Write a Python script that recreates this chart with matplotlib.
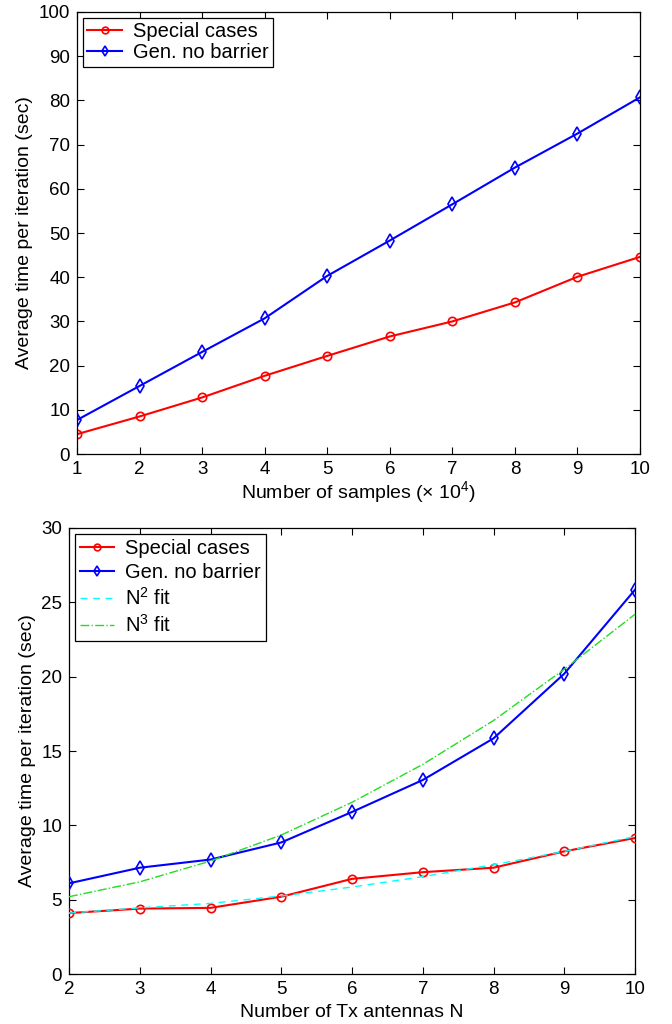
import matplotlib
matplotlib.use("Agg")
from matplotlib import pyplot as plt

# top panel: time vs number of samples (x 10^4)
samples = [1, 2, 3, 4, 5, 6, 7, 8, 9, 10]
special_samples = [4.5, 8.5, 12.8, 17.7, 22.2, 26.6, 30.0, 34.3, 40.1, 44.6]
general_samples = [7.7, 15.4, 23.1, 30.7, 40.3, 48.3, 56.5, 64.8, 72.5, 80.7]

# bottom panel: time vs number of Tx antennas
antennas = [2, 3, 4, 5, 6, 7, 8, 9, 10]
special_antennas = [4.1, 4.4, 4.45, 5.2, 6.4, 6.85, 7.15, 8.25, 9.15]
general_antennas = [6.1, 7.15, 7.7, 8.85, 10.9, 13.05, 15.85, 20.2, 25.85]
n2_fit = [4.1, 4.45, 4.75, 5.25, 5.85, 6.55, 7.35, 8.25, 9.25]
n3_fit = [5.2, 6.2, 7.6, 9.35, 11.55, 14.1, 17.05, 20.5, 24.2]

plt.rcParams["font.family"] = ["Liberation Sans", "DejaVu Sans"]
plt.rcParams["font.size"] = 14
plt.rcParams["mathtext.fontset"] = "custom"
plt.rcParams["mathtext.rm"] = "Liberation Sans"


def style_axes(ax):
    ax.tick_params(direction="in", top=True, right=True, length=5,
                   width=0.8, labelsize=13.5, pad=5)
    for sp in ax.spines.values():
        sp.set_linewidth(0.9)


def add_legend(ax, spacing, pad):
    leg = ax.legend(loc="upper left", fancybox=False, edgecolor="black",
                    framealpha=1, borderaxespad=0.3, handlelength=1.7,
                    handletextpad=0.55, fontsize=14.5, borderpad=pad,
                    labelspacing=spacing, markerscale=0.8)
    leg.get_frame().set_linewidth(0.9)
    return leg


def main():
    fig = plt.figure(figsize=(6.72, 10.24), dpi=100)

    ax1 = fig.add_axes([0.1146, 0.5566, 0.8378, 0.4317])
    ax1.plot(samples, special_samples, color="red", marker="o", lw=1.5,
             ms=6, mfc="none", mew=1.2, label="Special cases")
    ax1.plot(samples, general_samples, color="blue", marker="d", lw=1.5,
             ms=7, mfc="none", mew=1.2, label="Gen. no barrier")
    ax1.set_xlim(1, 10)
    ax1.set_ylim(0, 100)
    ax1.set_xticks(samples)
    ax1.set_yticks(range(0, 101, 10))
    ax1.set_xlabel(r"Number of samples ($\times$ 10$^{\rm 4}$)", labelpad=1)
    ax1.set_ylabel("Average time per iteration (sec)", labelpad=4)
    style_axes(ax1)
    add_legend(ax1, 0.1, 0.22)

    ax2 = fig.add_axes([0.1027, 0.0488, 0.8423, 0.4356])
    ax2.plot(antennas, special_antennas, color="red", marker="o", lw=1.5,
             ms=6, mfc="none", mew=1.2, label="Special cases", zorder=3)
    ax2.plot(antennas, general_antennas, color="blue", marker="d", lw=1.5,
             ms=7, mfc="none", mew=1.2, label="Gen. no barrier", zorder=3)
    ax2.plot(antennas, n2_fit, color="cyan", ls=(0, (5, 4)), lw=1.0,
             label=r"N$^{\rm 2}$ fit", zorder=4)
    ax2.plot(antennas, n3_fit, color="#22dd22", ls="-.", lw=1.0,
             label=r"N$^{\rm 3}$ fit", zorder=4)
    ax2.set_xlim(2, 10)
    ax2.set_ylim(0, 30)
    ax2.set_xticks(antennas)
    ax2.set_yticks(range(0, 31, 5))
    ax2.set_xlabel("Number of Tx antennas N", labelpad=4)
    ax2.set_ylabel("Average time per iteration (sec)", labelpad=4)
    style_axes(ax2)
    add_legend(ax2, 0.25, 0.25)

    fig.savefig("out.png", dpi=100)


if __name__ == "__main__":
    main()
